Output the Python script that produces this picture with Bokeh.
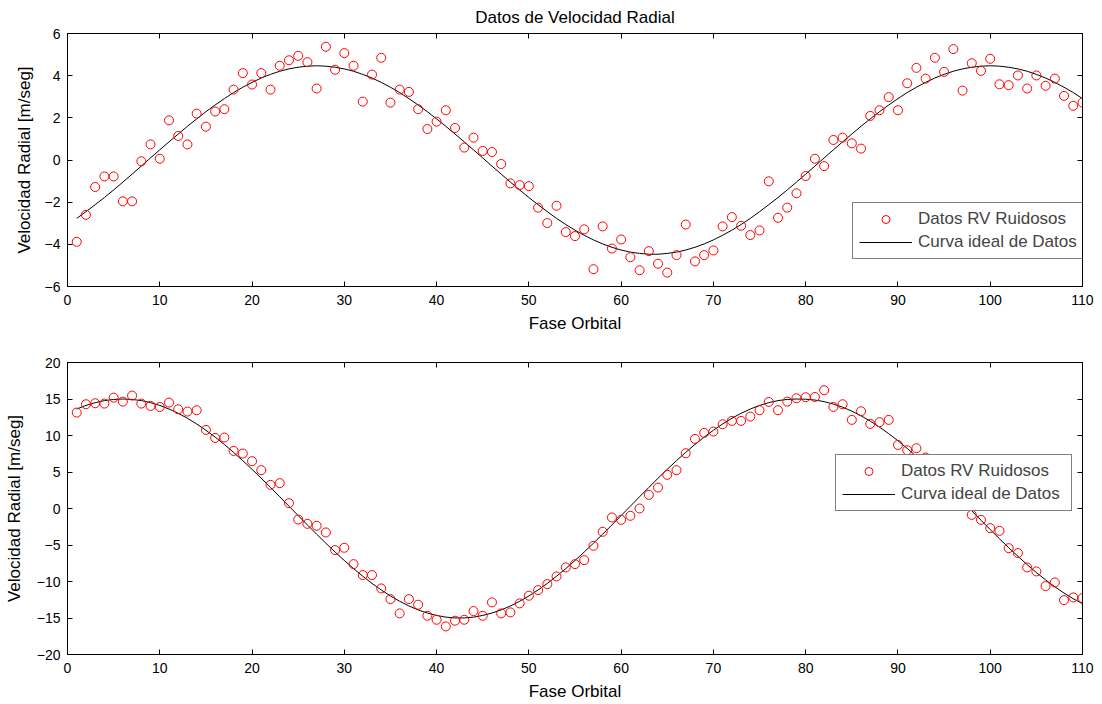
from bokeh.plotting import figure
from bokeh.models import LinearAxis, Legend, LegendItem, Range1d, FixedTicker
from bokeh.layouts import column
from bokeh.embed import file_html
from bokeh.resources import INLINE

# ---------------- data ----------------
phase = list(range(1, 111))

x_ticks = [0, 10, 20, 30, 40, 50, 60, 70, 80, 90, 100, 110]
top_y_ticks = [-6, -4, -2, 0, 2, 4, 6]
bot_y_ticks = [-20, -15, -10, -5, 0, 5, 10, 15, 20]

top_rv_noisy = [
    -3.88, -2.60, -1.28, -0.78, -0.78, -1.96, -1.96, -0.06, 0.74, 0.06,
    1.88, 1.14, 0.74, 2.20, 1.58, 2.30, 2.41, 3.34, 4.12, 3.58,
    4.12, 3.34, 4.47, 4.73, 4.94, 4.64, 3.39, 5.37, 4.28, 5.07,
    4.47, 2.77, 4.05, 4.85, 2.72, 3.34, 3.23, 2.41, 1.47, 1.82,
    2.36, 1.52, 0.59, 1.06, 0.43, 0.38, -0.19, -1.11, -1.19, -1.24,
    -2.26, -2.99, -2.17, -3.42, -3.61, -3.29, -5.18, -3.15, -4.20, -3.77,
    -4.61, -5.23, -4.32, -4.92, -5.34, -4.51, -3.06, -4.81, -4.51, -4.29,
    -3.15, -2.71, -3.12, -3.56, -3.34, -1.01, -2.74, -2.26, -1.58, -0.76,
    0.06, -0.29, 0.95, 1.06, 0.79, 0.54, 2.09, 2.36, 2.98, 2.36,
    3.64, 4.37, 3.86, 4.85, 4.18, 5.26, 3.29, 4.59, 4.23, 4.80,
    3.59, 3.55, 4.01, 3.39, 4.01, 3.52, 3.86, 3.04, 2.57, 2.72]

top_rv_ideal = [
    -2.77, -2.45, -2.12, -1.78, -1.42, -1.05, -0.67, -0.29, 0.10, 0.48,
    0.86, 1.23, 1.60, 1.95, 2.29, 2.61, 2.91, 3.20, 3.45, 3.68,
    3.89, 4.06, 4.21, 4.32, 4.40, 4.45, 4.47, 4.45, 4.40, 4.32,
    4.21, 4.06, 3.89, 3.68, 3.45, 3.20, 2.91, 2.61, 2.29, 1.95,
    1.60, 1.23, 0.86, 0.48, 0.10, -0.29, -0.67, -1.05, -1.42, -1.78,
    -2.12, -2.45, -2.77, -3.06, -3.33, -3.57, -3.79, -3.98, -4.14, -4.27,
    -4.37, -4.43, -4.47, -4.47, -4.43, -4.37, -4.27, -4.14, -3.98, -3.79,
    -3.57, -3.33, -3.06, -2.77, -2.45, -2.12, -1.78, -1.42, -1.05, -0.67,
    -0.29, 0.10, 0.48, 0.86, 1.23, 1.60, 1.95, 2.29, 2.61, 2.91,
    3.20, 3.45, 3.68, 3.89, 4.06, 4.21, 4.32, 4.40, 4.45, 4.47,
    4.45, 4.40, 4.32, 4.21, 4.06, 3.89, 3.68, 3.45, 3.20, 2.91]

bot_rv_noisy = [
    13.14, 14.28, 14.42, 14.37, 15.19, 14.64, 15.47, 14.37, 14.05, 13.91,
    14.51, 13.59, 13.28, 13.46, 10.77, 9.67, 9.72, 7.89, 7.53, 6.48,
    5.25, 3.24, 3.47, 0.73, -1.51, -2.10, -2.37, -3.28, -5.70, -5.38,
    -7.62, -9.12, -9.12, -10.95, -12.41, -14.37, -12.41, -13.18, -14.69, -15.24,
    -16.15, -15.37, -15.24, -14.05, -14.69, -12.86, -14.37, -14.23, -13.00, -11.95,
    -11.18, -10.36, -9.31, -8.07, -7.62, -7.07, -5.11, -3.19, -1.23, -1.55,
    -1.00, 0.00, 1.87, 2.87, 4.61, 5.25, 7.57, 9.53, 10.36, 10.54,
    11.54, 12.00, 12.00, 12.59, 13.46, 14.60, 13.46, 14.64, 15.10, 15.24,
    15.28, 16.20, 13.91, 14.28, 12.14, 13.32, 11.59, 11.82, 12.14, 8.71,
    7.98, 8.26, 6.98, 5.60, 4.30, 2.90, 1.50, -0.87, -1.55, -2.69,
    -3.06, -5.43, -6.11, -8.07, -8.62, -10.63, -10.13, -12.55, -12.18, -12.27]

bot_rv_ideal = [
    13.63, 14.12, 14.50, 14.78, 14.94, 15.00, 14.94, 14.78, 14.50, 14.12,
    13.63, 13.04, 12.36, 11.58, 10.72, 9.78, 8.77, 7.69, 6.55, 5.37,
    4.14, 2.89, 1.61, 0.32, -0.97, -2.25, -3.52, -4.76, -5.96, -7.12,
    -8.23, -9.28, -10.26, -11.16, -11.98, -12.71, -13.35, -13.89, -14.32, -14.65,
    -14.88, -14.99, -14.99, -14.88, -14.65, -14.32, -13.89, -13.35, -12.71, -11.98,
    -11.16, -10.26, -9.28, -8.23, -7.12, -5.96, -4.76, -3.52, -2.25, -0.97,
    0.32, 1.61, 2.89, 4.14, 5.37, 6.55, 7.69, 8.77, 9.78, 10.72,
    11.58, 12.36, 13.04, 13.63, 14.12, 14.50, 14.78, 14.94, 15.00, 14.97,
    14.86, 14.64, 14.31, 13.88, 13.34, 12.70, 11.97, 11.15, 10.25, 9.28,
    8.23, 7.12, 5.96, 4.76, 3.52, 2.25, 0.97, -0.32, -1.61, -2.89,
    -4.14, -5.37, -6.55, -7.69, -8.77, -9.78, -10.72, -11.58, -12.36, -13.04]

title_text = "Datos de Velocidad Radial"
x_label = "Fase Orbital"
y_label = "Velocidad Radial [m/seg]"
lbl_points = "Datos RV Ruidosos"
lbl_curve = "Curva ideal de Datos"

FONT = "Liberation Sans"


def make_panel(noisy, ideal, yr, yticks, height, borders, legend_loc, ylab_standoff,
               label_w, title=None):
    left, right, top, bottom = borders
    p = figure(width=1102, height=height, output_backend="svg", toolbar_location=None,
               x_range=Range1d(0, 110), y_range=Range1d(*yr),
               min_border_left=left, min_border_right=right,
               min_border_top=top, min_border_bottom=bottom)
    p.background_fill_color = "white"
    p.border_fill_color = "white"
    p.outline_line_color = "black"
    p.outline_line_width = 1
    p.xgrid.visible = False
    p.ygrid.visible = False
    if title:
        p.title.text = title
        p.title.align = "center"
        p.title.vertical_align = "top"
        p.title.text_font = FONT
        p.title.text_font_style = "normal"
        p.title.text_font_size = "17px"
        p.title.text_color = "black"

    p.xaxis.ticker = FixedTicker(ticks=x_ticks)
    p.yaxis.ticker = FixedTicker(ticks=yticks)
    p.xaxis.axis_label = x_label
    p.yaxis.axis_label = y_label
    for ax in (p.xaxis[0], p.yaxis[0]):
        ax.major_tick_in = 5
        ax.major_tick_out = 0
        ax.minor_tick_line_color = None
        ax.axis_line_color = "black"
        ax.major_tick_line_color = "black"
        ax.major_label_text_font = FONT
        ax.major_label_text_font_size = "14px"
        ax.major_label_text_color = "black"
        ax.axis_label_text_font = FONT
        ax.axis_label_text_font_size = "17px"
        ax.axis_label_text_font_style = "normal"
        ax.axis_label_text_color = "black"
    p.xaxis[0].major_label_standoff = 8
    p.xaxis[0].axis_label_standoff = 6
    p.yaxis[0].major_label_standoff = 7
    p.yaxis[0].axis_label_standoff = ylab_standoff

    # mirrored ticks on top and right (no labels)
    rax = LinearAxis(ticker=FixedTicker(ticks=yticks), major_tick_in=5, major_tick_out=0,
                     minor_tick_line_color=None,
                     major_label_overrides={t: "" for t in yticks},
                     axis_line_color="black", major_label_standoff=0)
    tax = LinearAxis(ticker=FixedTicker(ticks=x_ticks), major_tick_in=5, major_tick_out=0,
                     minor_tick_line_color=None,
                     major_label_overrides={t: "" for t in x_ticks},
                     axis_line_color="black", major_label_standoff=0)
    p.add_layout(rax, "right")
    p.add_layout(tax, "above")

    r_line = p.line(phase, ideal, line_color="black", line_width=1)
    r_pts = p.scatter(phase, noisy, marker="circle", size=9, fill_color=None,
                      line_color="red", line_width=1)

    legend = Legend(items=[LegendItem(label=lbl_points, renderers=[r_pts]),
                           LegendItem(label=lbl_curve, renderers=[r_line])],
                    location=legend_loc, margin=0, padding=6, spacing=3,
                    glyph_width=53, glyph_height=20, label_height=20, label_standoff=6,
                    label_width=label_w,
                    label_text_font=FONT, label_text_font_size="17px",
                    border_line_color="black", border_line_width=1,
                    background_fill_color="white", background_fill_alpha=1.0)
    p.add_layout(legend)
    return p


p1 = make_panel(top_rv_noisy, top_rv_ideal, (-6, 6), top_y_ticks, 340,
                (65, 20, 33, 54), (785, 27), 8, 160, title=title_text)
p2 = make_panel(bot_rv_noisy, bot_rv_ideal, (-20, 20), bot_y_ticks, 364,
                (67, 20, 22, 50), (768, 143), 10, 164)

layout = column(p1, p2, spacing=0)
open("out.html", "w").write(file_html(layout, INLINE))
